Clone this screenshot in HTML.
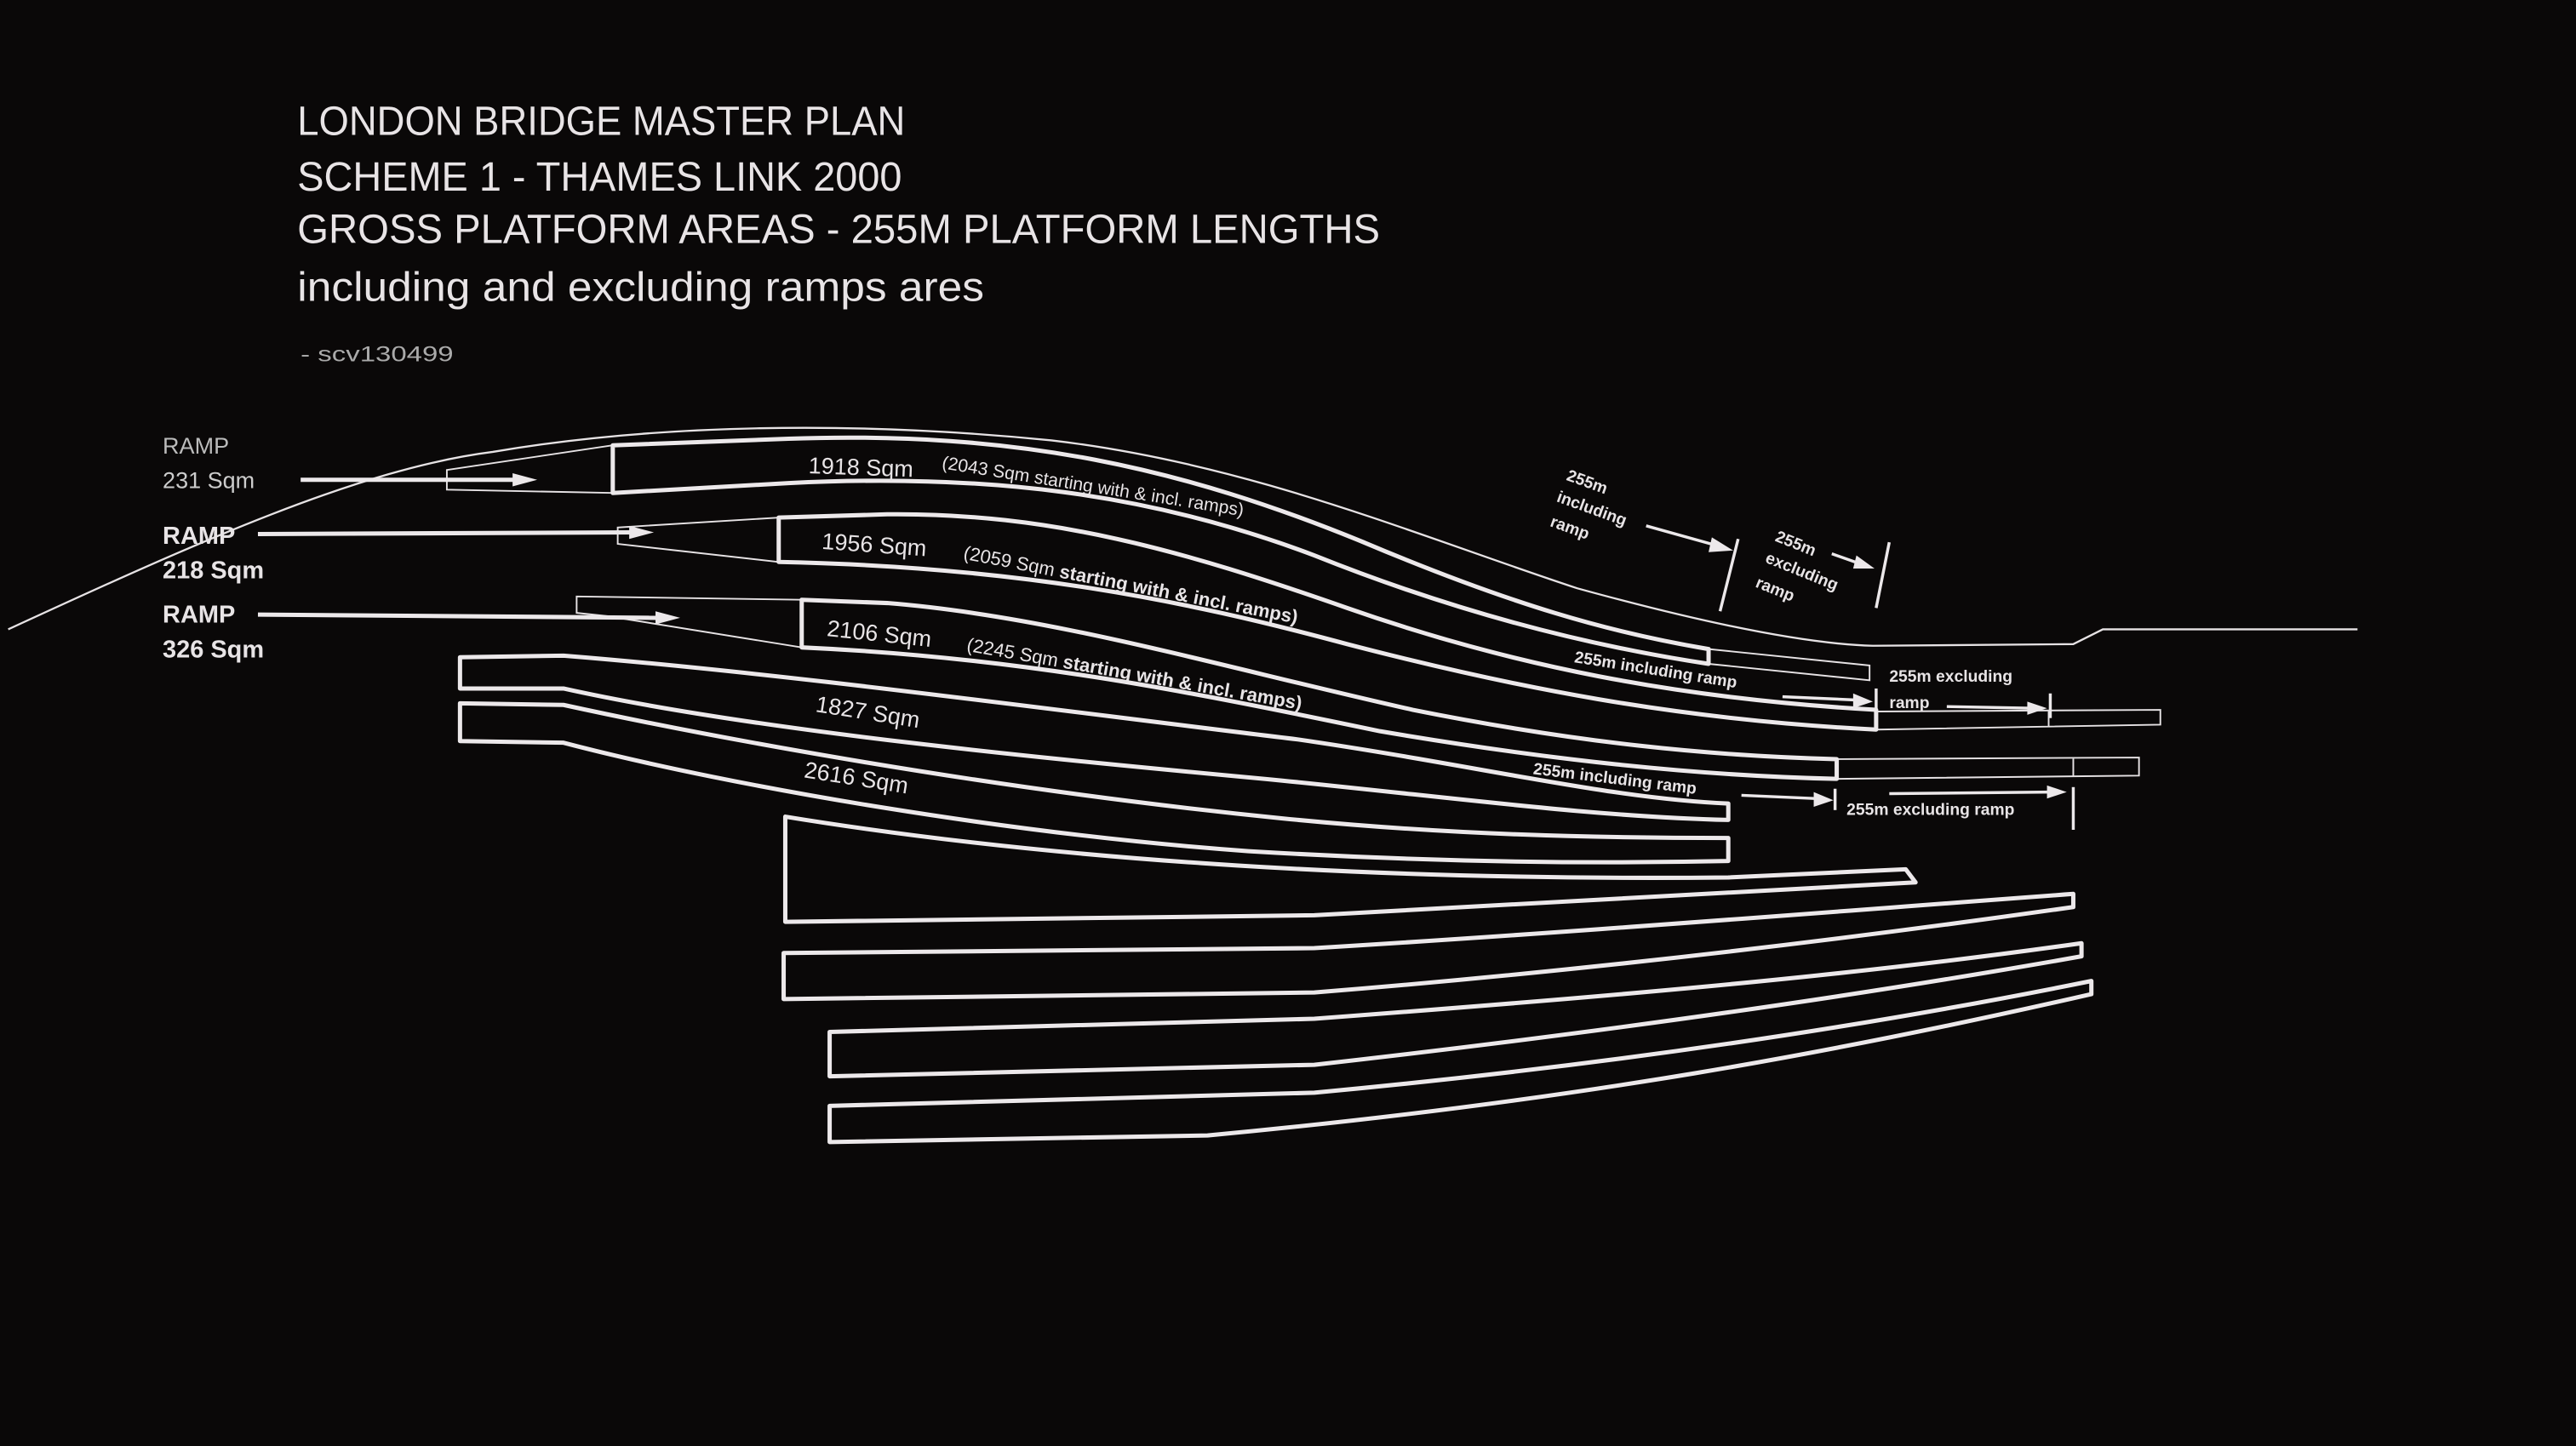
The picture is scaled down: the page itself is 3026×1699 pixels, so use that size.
<!DOCTYPE html>
<html><head><meta charset="utf-8"><style>
html,body{margin:0;padding:0;background:#0a0808;}
svg{display:block}
text{font-family:"Liberation Sans Narrow","Liberation Sans",sans-serif;fill:#e8e4e6}
</style></head><body>
<svg width="3026" height="1699" viewBox="0 0 1568 880" preserveAspectRatio="none" xmlns="http://www.w3.org/2000/svg">
<rect width="1568" height="880" fill="#0a0808"/>
<g>
<text x="181" y="82" font-size="25" textLength="370" lengthAdjust="spacingAndGlyphs">LONDON BRIDGE MASTER PLAN</text>
<text x="181" y="116" font-size="25" textLength="368" lengthAdjust="spacingAndGlyphs">SCHEME 1 - THAMES LINK 2000</text>
<text x="181" y="148" font-size="25" textLength="659" lengthAdjust="spacingAndGlyphs">GROSS PLATFORM AREAS - 255M PLATFORM LENGTHS</text>
<text x="181" y="183" font-size="25" textLength="418" lengthAdjust="spacingAndGlyphs">including and excluding ramps ares</text>
<text x="183" y="220" font-size="13" style="fill:#aaa" textLength="93" lengthAdjust="spacingAndGlyphs">-  scv130499</text>
</g>
<g fill="none" stroke="#e6e2e4">
<path d="M5,383 C120,330 220,285 300,275 C400,258 520,256 640,268 C760,282 860,325 960,358 C1040,380 1100,392 1140,393 L1262,392 L1280,383 L1435,383" stroke-width="1.2"/>
<path d="M373,271 L272,286 L272,298 L373,300" stroke-width="1"/>
<path d="M474,315 L376,321 L376,331 L474,342" stroke-width="1"/>
<path d="M488,365 L351,363 L351,373 L370,375 L488,394" stroke-width="1"/>
<path d="M1040,395 L1138,405 L1138,414 L1040,404" stroke-width="1"/>
<path d="M1142,433 L1315,432 L1315,441 L1142,444 M1247,432 L1247,442" stroke-width="1"/>
<path d="M1118,462 L1302,461 L1302,472 L1118,474 M1262,461 L1262,472" stroke-width="1"/>
</g>
<g fill="none" stroke="#ece8ea" stroke-width="2.6" stroke-linejoin="round">
<path d="M373,271 L480,267 C620,262 720,285 830,330 C920,368 980,385 1040,395 L1040,404 C960,392 880,370 800,338 C700,300 600,288 480,294 L373,300 Z"/>
<path d="M474,315 L540,313 C640,312 720,335 820,370 C920,405 1020,425 1142,432 L1142,444 C1020,438 920,418 820,392 C720,365 620,345 474,342 Z"/>
<path d="M488,365 L540,367 C640,375 740,405 860,432 C960,452 1040,460 1118,462 L1118,474 C1030,472 940,462 840,445 C720,420 620,400 488,394 Z"/>
<path d="M280,400 L343,399 C480,410 640,432 790,450 C900,466 980,486 1052,489 L1052,499 C970,497 890,486 780,475 C640,462 460,445 343,419 L280,419 Z"/>
<path d="M280,428 L343,429 C430,448 600,480 780,498 C880,508 970,510 1052,510 L1052,524 C960,526 860,524 760,518 C620,508 450,480 343,452 L280,451 Z"/>
<path d="M478,497 C650,525 850,536 1052,534 L1160,529 L1166,537 L800,557 L478,561 Z"/>
<path d="M477,580 L800,577 C950,568 1100,556 1262,544 L1262,552 C1100,575 950,592 800,604 L477,608 Z"/>
<path d="M505,628 L800,620 C960,608 1120,595 1267,574 L1267,582 C1120,608 960,630 800,648 L505,655 Z"/>
<path d="M505,673 L800,665 C960,650 1120,628 1273,597 L1273,605 C1120,640 960,670 735,691 L505,695 Z"/>
</g>
<g stroke="#ece8ea" stroke-width="2.6" fill="#ece8ea">
<line x1="183" y1="292" x2="314" y2="292"/><polygon points="327,292 312,288 312,296" stroke="none"/>
<line x1="157" y1="325" x2="385" y2="324"/><polygon points="398,324 383,320 383,328" stroke="none"/>
<line x1="157" y1="374" x2="400" y2="376"/><polygon points="414,376 399,372 399,380" stroke="none"/>
</g>
<g font-size="14">
<text x="99" y="276" style="fill:#bbb" font-size="14">RAMP</text>
<text x="99" y="297" style="fill:#ccc" font-size="14">231 Sqm</text>
<text x="99" y="331" font-size="15" font-weight="bold">RAMP</text>
<text x="99" y="352" font-size="15" font-weight="bold">218 Sqm</text>
<text x="99" y="379" font-size="15" font-weight="bold">RAMP</text>
<text x="99" y="400" font-size="15" font-weight="bold">326 Sqm</text>
</g>
<g font-size="14">
<text transform="translate(492,288) rotate(2)">1918 Sqm</text>
<text transform="translate(573,285) rotate(9)" font-size="11">(2043 Sqm starting with &amp; incl. ramps)</text>
<text transform="translate(500,334) rotate(4)">1956 Sqm</text>
<text transform="translate(586,340) rotate(11)" font-size="11.5">(2059 Sqm <tspan font-weight="bold">starting with &amp; incl. ramps)</tspan></text>
<text transform="translate(503,387) rotate(6)">2106 Sqm</text>
<text transform="translate(588,396) rotate(10)" font-size="11.5">(2245 Sqm <tspan font-weight="bold">starting with &amp; incl. ramps)</tspan></text>
<text transform="translate(496,433) rotate(9)">1827 Sqm</text>
<text transform="translate(489,473) rotate(9)">2616 Sqm</text>
</g>
<g font-size="10" font-weight="bold">
<text transform="translate(953,292) rotate(20)">255m</text>
<text transform="translate(947,305) rotate(20)">including</text>
<text transform="translate(943,320) rotate(20)">ramp</text>
<text transform="translate(1080,329) rotate(22)">255m</text>
<text transform="translate(1074,342) rotate(22)">excluding</text>
<text transform="translate(1068,357) rotate(22)">ramp</text>
<text transform="translate(958,403) rotate(9)">255m including ramp</text>
<text transform="translate(1150,415)">255m excluding</text>
<text transform="translate(1150,431)">ramp</text>
<text transform="translate(933,471) rotate(7)">255m including ramp</text>
<text transform="translate(1124,496)">255m excluding ramp</text>
</g>
<g stroke="#ece8ea" stroke-width="1.8" fill="#ece8ea">
<line x1="1002" y1="320" x2="1045" y2="332"/><polygon points="1055,335 1042,327 1040,336" stroke="none"/>
<line x1="1058" y1="328" x2="1047" y2="372"/>
<line x1="1115" y1="337" x2="1132" y2="343"/><polygon points="1141,346 1130,338 1128,346" stroke="none"/>
<line x1="1150" y1="330" x2="1142" y2="370"/>
<line x1="1085" y1="424" x2="1130" y2="426"/><polygon points="1140,427 1128,422 1128,431" stroke="none"/>
<line x1="1142" y1="419" x2="1142" y2="433"/>
<line x1="1185" y1="430" x2="1236" y2="431"/><polygon points="1246,431 1234,427 1234,435" stroke="none"/>
<line x1="1248" y1="422" x2="1248" y2="437"/>
<line x1="1060" y1="484" x2="1106" y2="486"/><polygon points="1116,487 1104,482 1104,491" stroke="none"/>
<line x1="1117" y1="480" x2="1117" y2="493"/>
<line x1="1150" y1="483" x2="1248" y2="482"/><polygon points="1258,482 1246,478 1246,486" stroke="none"/>
<line x1="1262" y1="479" x2="1262" y2="505"/>
</g>
</svg>
</body></html>
